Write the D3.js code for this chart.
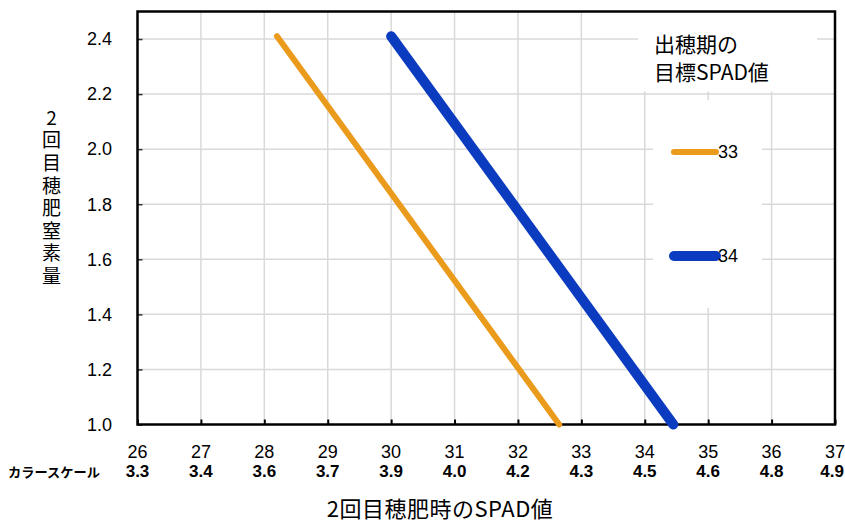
<!DOCTYPE html>
<html><head><meta charset="utf-8">
<script src="https://cdn.jsdelivr.net/npm/d3@7"></script>
<style>
body{margin:0;background:#fff;}
svg{display:block;font-family:"Liberation Sans",Arial,sans-serif;}
</style></head>
<body><svg id="c" width="845" height="523"></svg>
<script>
const xTicks = [26,27,28,29,30,31,32,33,34,35,36,37];
const colorScale = ["3.3","3.4","3.6","3.7","3.9","4.0","4.2","4.3","4.5","4.6","4.8","4.9"];
const yTicks = [1.0,1.2,1.4,1.6,1.8,2.0,2.2,2.4];
const seriesNames = ["33","34"];
const series33 = [[28.2,2.41],[32.65,1.0]];
const series34 = [[30.0,2.41],[34.45,1.0]];
const colors = ["#EA9B1C","#0B3BBF"];
const widths = [6,10];

const svg = d3.select("#c");
const L=137.5,R=835,T=11.5,B=424.5;
const x = d3.scaleLinear().domain([26,37]).range([L,R]);
const y = d3.scaleLinear().domain([1.0,2.5]).range([B,T]);

// gridlines
const g = svg.append("g");
g.selectAll(".vg").data(xTicks.slice(1,-1)).enter().append("line")
 .attr("x1",d=>x(d)).attr("x2",d=>x(d)).attr("y1",T).attr("y2",B)
 .attr("stroke","#d9d9d9").attr("stroke-width",1.5);
g.selectAll(".hg").data(yTicks.slice(1)).enter().append("line")
 .attr("x1",L).attr("x2",R).attr("y1",d=>y(d)).attr("y2",d=>y(d))
 .attr("stroke","#d9d9d9").attr("stroke-width",1.5);

// legend background boxes (cover grid)
svg.append("rect").attr("x",638).attr("y",T+1).attr("width",179).attr("height",79).attr("fill","#fff");
svg.append("rect").attr("x",653).attr("y",100).attr("width",109).attr("height",208).attr("fill","#fff");

// axes
const xAxis = d3.axisBottom(x).tickValues(xTicks).tickSize(-5).tickFormat("");
svg.append("g").attr("transform",`translate(0,${B})`).call(xAxis)
 .call(s=>s.select(".domain").remove())
 .call(s=>s.selectAll("line").attr("stroke","#000").attr("stroke-width",2));
const yAxis = d3.axisLeft(y).tickValues(yTicks).tickSize(-5).tickFormat("");
svg.append("g").attr("transform",`translate(${L},0)`).call(yAxis)
 .call(s=>s.select(".domain").remove())
 .call(s=>s.selectAll("line").attr("stroke","#333").attr("stroke-width",1.5));

// frame
svg.append("rect").attr("x",L).attr("y",T).attr("width",R-L).attr("height",B-T)
 .attr("fill","none").attr("stroke","#000").attr("stroke-width",2.5);

// lines
const line = d3.line().x(d=>x(d[0])).y(d=>y(d[1]));
[series33,series34].forEach((s,i)=>{
  svg.append("path").datum(s).attr("d",line).attr("fill","none")
   .attr("stroke",colors[i]).attr("stroke-width",widths[i]).attr("stroke-linecap","round");
});

// y tick labels
svg.selectAll(".yl").data(yTicks).enter().append("text")
 .attr("x",112).attr("y",d=>y(d)).attr("dy","0.35em").attr("text-anchor","end")
 .attr("font-size",18).attr("fill","#000").text(d=>d.toFixed(1));

// x tick labels
const last = xTicks.length-1;
svg.selectAll(".xl").data(xTicks).enter().append("text")
 .attr("x",d=>x(d)).attr("y",458).attr("text-anchor","middle")
 .attr("font-size",18).attr("fill","#000").text(d=>d);
svg.selectAll(".cl").data(colorScale).enter().append("text")
 .attr("x",(d,i)=>i===last?844:x(xTicks[i])).attr("y",477)
 .attr("text-anchor",(d,i)=>i===last?"end":"middle")
 .attr("font-weight","bold").attr("font-size",17).attr("fill","#000").text(d=>d);
svg.append("text").attr("x",8).attr("y",477).attr("font-family",'"Noto Sans CJK JP",sans-serif')
 .attr("font-weight","bold").attr("font-size",13).attr("textLength",92).attr("lengthAdjust","spacingAndGlyphs")
 .text("カラースケール");

// axis titles
const jf='"Noto Sans CJK JP",sans-serif';
svg.append("text").attr("x",440).attr("y",517).attr("text-anchor","middle")
 .attr("font-family",jf).attr("font-size",22).attr("letter-spacing",0.5).text("2回目穂肥時のSPAD値");
svg.append("text").attr("x",51.5).attr("y",108)
 .attr("font-family",jf).attr("font-size",19).attr("letter-spacing",3.6)
 .style("writing-mode","vertical-rl").style("text-orientation","upright")
 .text("2回目穂肥窒素量");

// legend
svg.append("text").attr("x",654).attr("y",52).attr("font-family",jf).attr("font-size",21).text("出穂期の");
svg.append("text").attr("x",654).attr("y",80).attr("font-family",jf).attr("font-size",21).text("目標SPAD値");
const legY = [152,256];
seriesNames.forEach((n,i)=>{
  svg.append("line").attr("x1",674).attr("x2",716).attr("y1",legY[i]).attr("y2",legY[i])
   .attr("stroke",colors[i]).attr("stroke-width",widths[i]).attr("stroke-linecap","round");
  svg.append("text").attr("x",718).attr("y",legY[i]).attr("dy","0.36em").attr("font-size",18).text(n);
});
</script></body></html>
